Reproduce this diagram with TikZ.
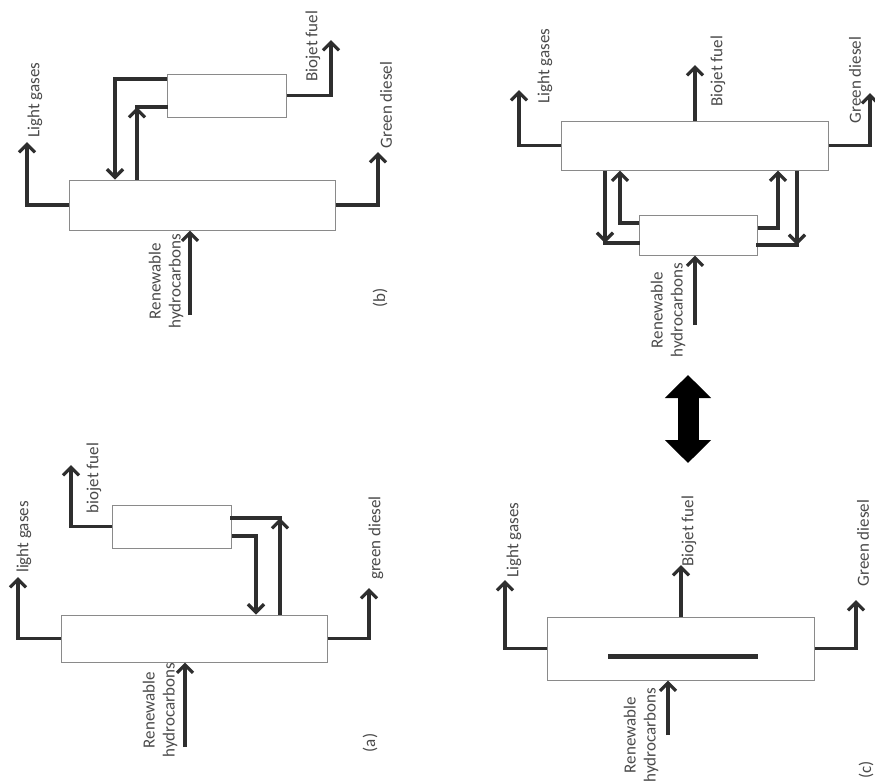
\documentclass[tikz,border=0pt]{standalone}
\usepackage{fontspec}
\setmainfont{Carlito}
\usetikzlibrary{arrows.meta, fit}
\definecolor{pfdline}{HTML}{2E2E2E}
\definecolor{pfdtext}{HTML}{4A4A4A}
\definecolor{pfdbox}{HTML}{8A8A8A}

\begin{document}
\begin{tikzpicture}[
    x=0.5pt, y=-0.5pt,
    font=\fontsize{8.5}{10}\selectfont,
    col/.style={draw=pfdbox, fill=white, line width=0.5pt, inner sep=0pt},
    flow/.style={draw=pfdline, line width=1.6pt,
                 -{Straight Barb[length=4pt,width=8pt]}},
    pipe/.style={draw=pfdline, line width=1.6pt, line cap=rect},
    lbl/.style={text=pfdtext, rotate=90, inner sep=0pt, align=center},
    wall/.style={draw=pfdline, line width=2.5pt},
    swap/.style={draw=black, line width=10.5pt,
                 {Triangle[length=11.5pt,width=22.5pt]}-{Triangle[length=11.5pt,width=22.5pt]}},
  ]
  \path[use as bounding box, fill=white] (0,0) rectangle (875,783);

  % (a)
  \node[col, fit={(61,615) (327,662)}] (ma) {};
  \node[col, fit={(112,505) (231,548)}] (sa) {};
  \coordinate (lgA) at (18,577);
  \coordinate (bfA) at (71,465);
  \coordinate (gdA) at (369,588);
  \coordinate (rhA) at (185,747);
  \coordinate (a1) at (256,536);
  \coordinate (a2) at (280,518);

  \draw[flow] (ma.west) -| (lgA);
  \draw[flow] (sa.west) -| (bfA);
  \draw[flow] (ma.east) -| (gdA);
  \draw[flow] (rhA) -- (rhA |- ma.south);
  \draw[flow] (sa.east |- a1) -| (a1 |- ma.north);
  \draw[flow] (a2 |- ma.north) -- (a2);
  \draw[pipe] (a2) -- (sa.east |- a2);

  \node[lbl] (lgAt) at (24,537) {light gases};
  \node[lbl] (bfAt) at (94,478) {biojet fuel};
  \node[lbl] (gdAt) at (376,538) {green diesel};
  \node[lbl] (rhAt) at (160,710) {Renewable\\hydrocarbons};
  \node[lbl] (capA) at (370,743) {(a)};

  % (b)
  \node[col, fit={(69,180) (335,230)}] (mb) {};
  \node[col, fit={(167,74) (286,117)}] (sb) {};
  \coordinate (lgB) at (27,142);
  \coordinate (bfB) at (331,40);
  \coordinate (gdB) at (378,152);
  \coordinate (rhB) at (190,315);
  \coordinate (b1) at (115,79);
  \coordinate (b2) at (137,107);

  \draw[flow] (mb.west) -| (lgB);
  \draw[flow] (sb.east) -| (bfB);
  \draw[flow] (mb.east) -| (gdB);
  \draw[flow] (rhB) -- (rhB |- mb.south);
  \draw[flow] (sb.west |- b1) -| (b1 |- mb.north);
  \draw[flow] (b2 |- mb.north) -- (b2);
  \draw[pipe] (b2) -- (sb.west |- b2);

  \node[lbl] (lgBt) at (35,100) {Light gases};
  \node[lbl] (bfBt) at (313,46) {Biojet fuel};
  \node[lbl] (gdBt) at (386,105) {Green diesel};
  \node[lbl] (rhBt) at (166,281) {Renewable\\hydrocarbons};
  \node[lbl] (capB) at (380,298) {(b)};

  % (c), two columns
  \node[col, fit={(561,121) (828,170)}] (mc) {};
  \node[col, fit={(639,215) (757,255)}] (sc) {};
  \coordinate (lgC) at (519,90);
  \coordinate (bfC) at (695,65);
  \coordinate (gdC) at (870,93);
  \coordinate (rhC) at (695,325);
  \coordinate (c1) at (605,243);
  \coordinate (c2) at (620,223);
  \coordinate (c3) at (778,228);
  \coordinate (c4) at (797,245);

  \draw[flow] (mc.west) -| (lgC);
  \draw[flow] (bfC |- mc.north) -- (bfC);
  \draw[flow] (mc.east) -| (gdC);
  \draw[flow] (rhC) -- (rhC |- sc.south);
  \draw[flow] (c1 |- mc.south) -- (c1);
  \draw[pipe] (c1) -- (sc.west |- c1);
  \draw[flow] (sc.west |- c2) -| (c2 |- mc.south);
  \draw[flow] (sc.east |- c3) -| (c3 |- mc.south);
  \draw[flow] (c4 |- mc.south) -- (c4);
  \draw[pipe] (c4) -- (sc.east |- c4);

  \node[lbl] (lgCt) at (545,66) {Light gases};
  \node[lbl] (bfCt) at (718,71) {Biojet fuel};
  \node[lbl] (gdCt) at (855,80) {Green diesel};
  \node[lbl] (rhCt) at (668,310) {Renewable\\hydrocarbons};

  \coordinate (swapT) at (688,375);
  \coordinate (swapB) at (688,463);
  \draw[swap] (swapT) -- (swapB);

  % (c), dividing wall column
  \node[col, fit={(547,617) (814,680)}] (md) {};
  \coordinate (wallL) at (608,656);
  \coordinate (wallR) at (758,656);
  \draw[wall] (wallL) -- (wallR);
  \coordinate (lgD) at (505,580);
  \coordinate (bfD) at (681,565);
  \coordinate (gdD) at (856,600);
  \coordinate (rhD) at (668,735);

  \draw[flow] (md.west) -| (lgD);
  \draw[flow] (bfD |- md.north) -- (bfD);
  \draw[flow] (md.east) -| (gdD);
  \draw[flow] (rhD) -- (rhD |- md.south);

  \node[lbl] (lgDt) at (514,540) {Light gases};
  \node[lbl] (bfDt) at (689,531) {Biojet fuel};
  \node[lbl] (gdDt) at (863,543) {Green diesel};
  \node[lbl] (rhDt) at (641,735) {Renewable\\hydrocarbons};
  \node[lbl] (capC) at (866,770) {(c)};
\end{tikzpicture}
\end{document}
